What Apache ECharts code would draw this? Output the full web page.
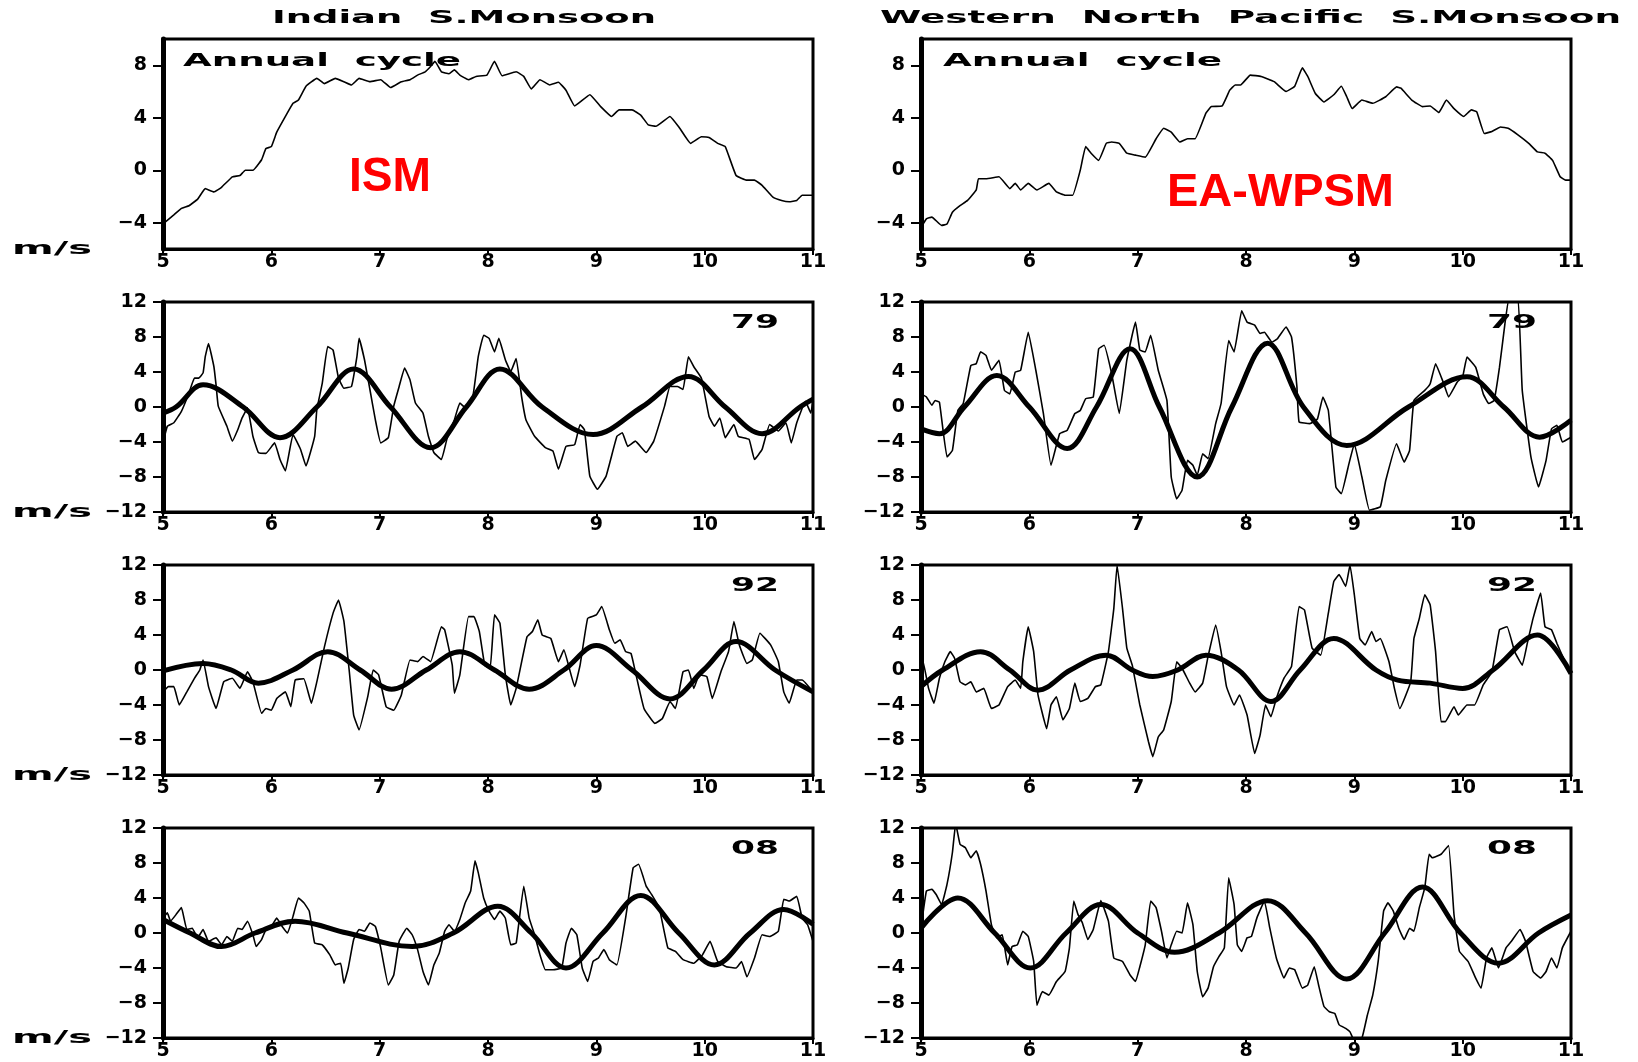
<!DOCTYPE html>
<html>
<head>
<meta charset="utf-8">
<script src="https://cdn.jsdelivr.net/npm/echarts@6/dist/echarts.min.js"></script>
<style>
html,body{margin:0;padding:0;background:#fff;}
#chart{width:1638px;height:1062px;}
</style>
</head>
<body>
<div id="chart"></div>
<script>
// ---------------- DATA (month on x, m/s on y) ----------------
const xTicks = [5, 6, 7, 8, 9, 10, 11];
const yTicksAnnual = [-4, 0, 4, 8];
const yTicksAnom = [-12, -8, -4, 0, 4, 8, 12];

const ismAnnual = [[5.00,-4.08],[5.10,-3.4],[5.17,-2.9],[5.24,-2.7],[5.32,-2.2],[5.39,-1.4],[5.47,-1.65],[5.54,-1.3],[5.64,-0.5],[5.71,-0.4],[5.76,0],[5.83,0],[5.91,0.8],[5.95,1.65],[6.00,1.8],[6.05,2.9],[6.13,4.1],[6.20,5.1],[6.25,5.35],[6.32,6.4],[6.42,7.0],[6.49,6.6],[6.59,7.0],[6.67,6.75],[6.74,6.5],[6.81,7.0],[6.91,6.75],[7.01,6.9],[7.10,6.3],[7.20,6.75],[7.28,6.9],[7.35,7.25],[7.42,7.5],[7.47,7.9],[7.51,8.3],[7.57,7.5],[7.64,7.35],[7.69,7.65],[7.74,7.25],[7.82,6.9],[7.89,7.15],[7.99,7.25],[8.06,8.3],[8.13,7.2],[8.26,7.5],[8.33,7.15],[8.40,6.2],[8.48,6.9],[8.57,6.5],[8.65,6.7],[8.72,6.1],[8.80,4.9],[8.94,5.75],[9.04,4.85],[9.14,4.1],[9.21,4.6],[9.33,4.6],[9.41,4.2],[9.48,3.45],[9.55,3.35],[9.68,4.1],[9.77,3.2],[9.87,2.05],[9.97,2.55],[10.04,2.5],[10.12,2.05],[10.19,1.8],[10.29,-0.4],[10.39,-0.75],[10.46,-0.75],[10.53,-1.15],[10.63,-2.05],[10.71,-2.3],[10.78,-2.4],[10.85,-2.3],[10.90,-1.9],[11.00,-1.9]];

const wnpAnnual = [[5.00,-4.35],[5.05,-3.7],[5.10,-3.57],[5.19,-4.2],[5.24,-4.1],[5.29,-3.2],[5.36,-2.7],[5.43,-2.3],[5.51,-1.5],[5.53,-0.65],[5.60,-0.65],[5.72,-0.5],[5.82,-1.4],[5.87,-1.0],[5.92,-1.5],[5.99,-1.0],[6.07,-1.5],[6.18,-1.0],[6.25,-1.65],[6.33,-1.9],[6.40,-1.9],[6.47,0],[6.52,1.8],[6.57,1.3],[6.64,0.75],[6.71,2.05],[6.76,2.15],[6.83,2.05],[6.90,1.3],[6.98,1.15],[7.07,1.0],[7.17,2.4],[7.24,3.2],[7.31,2.9],[7.39,2.15],[7.46,2.4],[7.53,2.4],[7.63,4.35],[7.68,4.85],[7.78,4.9],[7.85,6.1],[7.90,6.5],[7.95,6.5],[8.04,7.25],[8.14,7.15],[8.26,6.75],[8.37,6.0],[8.45,6.4],[8.52,7.8],[8.57,7.15],[8.64,5.85],[8.72,5.2],[8.81,5.75],[8.88,6.4],[8.93,5.6],[8.98,4.7],[9.07,5.35],[9.17,5.1],[9.29,5.6],[9.39,6.35],[9.43,6.25],[9.53,5.35],[9.63,4.85],[9.70,4.9],[9.78,4.4],[9.85,5.35],[9.92,4.7],[10.01,4.1],[10.08,4.6],[10.13,4.45],[10.20,2.8],[10.27,2.95],[10.35,3.3],[10.42,3.2],[10.51,2.7],[10.61,2.05],[10.69,1.4],[10.76,1.3],[10.83,0.75],[10.90,-0.5],[10.95,-0.75],[11.00,-0.75]];

const ism79Thin = [[5.00,-4.1],[5.04,-2.2],[5.10,-1.8],[5.17,-0.5],[5.24,1.6],[5.29,3.3],[5.33,3.3],[5.37,3.9],[5.39,5.75],[5.42,7.25],[5.47,4.6],[5.49,2.5],[5.51,0.1],[5.59,-2.2],[5.64,-3.9],[5.69,-2.6],[5.73,-1.25],[5.78,-0.1],[5.83,-3.35],[5.88,-5.2],[5.95,-5.3],[6.03,-4.1],[6.08,-6.0],[6.13,-7.3],[6.20,-3.15],[6.27,-4.85],[6.32,-6.75],[6.40,-3.35],[6.42,-0.3],[6.47,2.7],[6.52,6.9],[6.57,6.5],[6.62,3.3],[6.67,2.15],[6.74,2.35],[6.79,5.75],[6.81,7.85],[6.86,5.4],[6.91,2.0],[6.96,-1.45],[7.01,-4.1],[7.08,-3.5],[7.13,0.1],[7.18,2.35],[7.23,4.45],[7.28,3.1],[7.33,0.45],[7.40,-0.7],[7.45,-3.35],[7.50,-5.2],[7.57,-6.0],[7.62,-3.7],[7.69,-1.45],[7.74,0.45],[7.79,-0.1],[7.86,1.2],[7.91,5.75],[7.96,8.2],[8.01,7.85],[8.06,6.3],[8.10,7.85],[8.16,5.4],[8.21,4.05],[8.26,5.55],[8.31,1.2],[8.35,-1.45],[8.43,-3.35],[8.53,-4.65],[8.60,-5.05],[8.65,-7.1],[8.72,-4.5],[8.80,-4.3],[8.85,-2.0],[8.89,-2.6],[8.94,-7.9],[9.01,-9.4],[9.09,-7.9],[9.19,-3.35],[9.24,-2.95],[9.29,-4.5],[9.36,-3.9],[9.46,-5.2],[9.53,-3.9],[9.63,0.1],[9.68,2.35],[9.75,2.35],[9.80,2.0],[9.85,5.75],[9.90,4.6],[9.97,3.3],[10.04,-1.05],[10.09,-2.2],[10.14,-1.25],[10.19,-3.5],[10.27,-2.0],[10.31,-3.35],[10.41,-3.7],[10.46,-6.0],[10.53,-4.85],[10.60,-2.0],[10.68,-2.75],[10.75,-1.8],[10.80,-4.1],[10.85,-1.8],[10.93,0.65],[10.98,-0.7],[11.00,0.8]];
const ism79Fit = [[5.00,-0.7],[5.12,0],[5.37,2.55],[5.74,0],[6.08,-3.5],[6.42,0],[6.76,4.35],[7.10,0],[7.47,-4.65],[7.80,0],[8.11,4.35],[8.50,0],[8.97,-3.15],[9.42,0],[9.85,3.5],[10.19,0],[10.53,-3.05],[10.88,0],[11.00,0.9]];

const wnp79Thin = [[5.00,1.5],[5.05,1.15],[5.10,0.2],[5.13,0.75],[5.17,0.55],[5.24,-5.7],[5.29,-4.95],[5.34,-0.4],[5.39,0.4],[5.46,4.75],[5.51,4.95],[5.55,6.3],[5.60,5.9],[5.65,4.2],[5.72,5.35],[5.77,1.9],[5.82,1.5],[5.87,4.0],[5.92,4.2],[5.99,8.55],[6.06,4.2],[6.13,-0.75],[6.20,-6.65],[6.28,-3.05],[6.35,-2.65],[6.42,-0.75],[6.47,-0.4],[6.52,0.95],[6.59,1.15],[6.64,6.65],[6.69,7.05],[6.76,3.8],[6.83,-0.75],[6.90,5.35],[6.98,9.7],[7.02,6.5],[7.07,6.3],[7.12,8.2],[7.19,4.2],[7.27,0.75],[7.31,-8.0],[7.36,-10.5],[7.41,-9.5],[7.46,-6.1],[7.51,-6.65],[7.55,-7.8],[7.60,-5.35],[7.65,-5.9],[7.72,-1.9],[7.77,0.4],[7.84,7.6],[7.89,6.3],[7.96,11.0],[8.01,9.7],[8.08,9.35],[8.13,8.4],[8.17,8.55],[8.24,7.4],[8.29,7.8],[8.37,9.15],[8.42,8.0],[8.47,2.3],[8.49,-1.7],[8.59,-1.9],[8.66,-1.35],[8.71,1.15],[8.76,-0.4],[8.83,-9.15],[8.88,-9.9],[8.95,-6.5],[9.00,-4.2],[9.07,-8.0],[9.14,-11.8],[9.24,-11.4],[9.29,-8.4],[9.39,-4.2],[9.46,-6.3],[9.51,-4.95],[9.55,0.75],[9.65,1.9],[9.70,2.65],[9.75,4.95],[9.82,2.85],[9.87,1.15],[9.95,2.85],[10.00,3.45],[10.04,5.7],[10.12,4.55],[10.19,1.5],[10.24,0.4],[10.29,0.75],[10.34,4.55],[10.39,9.5],[10.43,12.5],[10.51,12.5],[10.55,1.9],[10.63,-5.7],[10.70,-9.15],[10.77,-6.1],[10.82,-2.5],[10.87,-2.1],[10.92,-4.0],[11.00,-3.45]];
const wnp79Fit = [[5.00,-2.5],[5.17,-3.05],[5.40,0],[5.70,3.6],[6.00,0],[6.35,-4.75],[6.62,0],[6.93,6.65],[7.20,0],[7.55,-8.0],[7.87,0],[8.20,7.3],[8.53,0],[8.93,-4.4],[9.50,0],[10.04,3.45],[10.38,0],[10.71,-3.45],[11.00,-1.5]];

const ism92Thin = [[5.00,-2.5],[5.05,-1.9],[5.10,-1.9],[5.15,-4.0],[5.22,-2.5],[5.29,-0.95],[5.34,0],[5.37,1.15],[5.42,-1.9],[5.49,-4.4],[5.56,-1.35],[5.64,-0.95],[5.71,-2.1],[5.78,-0.2],[5.83,-1.35],[5.91,-4.95],[5.95,-4.4],[6.00,-4.6],[6.05,-3.25],[6.13,-2.5],[6.18,-4.2],[6.22,-1.15],[6.30,-1.0],[6.37,-3.8],[6.42,-1.35],[6.49,2.65],[6.57,6.5],[6.62,8.0],[6.67,5.55],[6.72,-0.2],[6.76,-5.15],[6.81,-6.85],[6.89,-3.05],[6.94,0],[6.99,-0.55],[7.06,-4.2],[7.13,-4.6],[7.20,-2.85],[7.28,1.15],[7.35,0.95],[7.40,1.55],[7.47,0.95],[7.57,4.95],[7.60,4.6],[7.67,0.55],[7.69,-2.65],[7.74,-0.55],[7.82,6.1],[7.87,6.1],[7.92,4.4],[7.97,0.55],[8.02,0.2],[8.06,6.3],[8.11,5.35],[8.16,-0.55],[8.21,-4.0],[8.26,-2.1],[8.36,3.8],[8.41,4.4],[8.46,5.75],[8.50,4.0],[8.58,3.6],[8.65,0.95],[8.70,2.3],[8.80,-1.9],[8.85,0.55],[8.92,5.9],[9.00,6.3],[9.05,7.25],[9.12,4.6],[9.17,3.05],[9.22,3.45],[9.27,2.1],[9.32,1.9],[9.36,-0.2],[9.44,-4.4],[9.54,-6.1],[9.61,-5.55],[9.68,-3.6],[9.73,-4.4],[9.80,-0.2],[9.85,0],[9.90,-2.1],[9.95,-0.55],[10.02,-0.75],[10.07,-3.25],[10.15,-0.2],[10.22,2.1],[10.27,5.55],[10.32,2.85],[10.39,0.75],[10.44,1.15],[10.51,4.2],[10.61,2.85],[10.68,0.95],[10.73,-2.5],[10.78,-3.8],[10.85,-1.15],[10.90,-1.15],[11.00,-2.5]];
const ism92Fit = [[5.00,-0.1],[5.37,0.75],[5.63,0],[5.88,-1.5],[6.20,0],[6.52,2.1],[6.82,0],[7.11,-2.2],[7.43,0],[7.74,2.1],[8.06,0],[8.38,-2.2],[8.70,0],[9.00,2.8],[9.33,0],[9.68,-3.3],[9.99,0],[10.29,3.25],[10.65,0],[11.00,-2.5]];

const wnp92Thin = [[5.00,-2.1],[5.02,0.95],[5.07,-2.1],[5.12,-3.8],[5.17,-0.95],[5.22,0.95],[5.27,2.1],[5.31,1.35],[5.36,-1.35],[5.41,-1.7],[5.46,-1.35],[5.51,-2.5],[5.58,-2.1],[5.65,-4.4],[5.72,-4.0],[5.80,-1.9],[5.87,-1.15],[5.92,-2.1],[5.94,0.95],[5.99,4.95],[6.04,2.1],[6.08,-2.85],[6.16,-6.7],[6.20,-4.0],[6.25,-3.05],[6.31,-5.7],[6.37,-4.4],[6.42,-1.5],[6.47,-3.6],[6.54,-3.25],[6.61,-1.9],[6.66,-1.7],[6.73,2.1],[6.78,7.05],[6.81,12.0],[6.86,7.05],[6.90,2.5],[6.95,0.55],[7.02,-4.0],[7.10,-8.2],[7.14,-9.9],[7.19,-7.65],[7.24,-6.85],[7.31,-3.6],[7.36,0.95],[7.41,0.2],[7.48,-1.5],[7.53,-2.5],[7.60,-1.5],[7.65,1.55],[7.72,5.15],[7.77,2.1],[7.82,-1.9],[7.89,-4.0],[7.94,-2.85],[8.01,-5.15],[8.08,-9.55],[8.13,-7.45],[8.18,-4.0],[8.23,-5.35],[8.28,-3.25],[8.35,-0.95],[8.42,0.4],[8.49,7.25],[8.54,6.85],[8.61,2.5],[8.69,1.7],[8.76,6.5],[8.81,10.1],[8.86,10.9],[8.92,9.55],[8.96,12.0],[9.00,8.6],[9.05,3.6],[9.10,2.85],[9.16,4.4],[9.20,3.25],[9.24,3.6],[9.32,0.95],[9.37,-2.1],[9.42,-4.4],[9.52,-1.35],[9.55,3.6],[9.60,5.9],[9.65,8.6],[9.70,7.45],[9.75,2.1],[9.80,-5.9],[9.84,-5.9],[9.92,-4.2],[9.96,-5.15],[10.04,-4.0],[10.11,-4.0],[10.19,-1.7],[10.27,-0.2],[10.34,4.6],[10.41,4.95],[10.48,2.1],[10.55,0.55],[10.60,3.25],[10.65,5.9],[10.72,8.8],[10.76,4.95],[10.82,4.6],[10.87,3.05],[10.93,1.35],[11.00,-0.55]];
const wnp92Fit = [[5.00,-1.9],[5.20,0],[5.55,2.1],[5.82,0],[6.08,-2.3],[6.38,0],[6.71,1.7],[6.95,0],[7.14,-0.75],[7.37,0],[7.63,1.7],[7.93,0],[8.23,-3.6],[8.50,0],[8.81,3.6],[9.20,0],[9.40,-1.15],[9.70,-1.5],[10.00,-2.1],[10.28,0],[10.69,4.0],[11.00,-0.4]];

const ism08Thin = [[5.00,1.7],[5.04,2.3],[5.07,1.35],[5.12,2.1],[5.17,2.9],[5.22,0.4],[5.27,0.55],[5.32,-0.55],[5.37,0.4],[5.42,-0.95],[5.49,-0.55],[5.54,-1.35],[5.59,-0.4],[5.64,-0.95],[5.69,0.55],[5.73,0.4],[5.78,1.35],[5.83,-0.2],[5.86,-1.55],[5.91,-0.75],[5.95,0.4],[6.00,0.75],[6.05,1.7],[6.10,0.75],[6.15,0],[6.20,1.9],[6.25,4.0],[6.30,3.45],[6.35,2.5],[6.40,-1.15],[6.47,-1.35],[6.54,-2.5],[6.59,-3.65],[6.64,-3.45],[6.67,-5.75],[6.71,-4.0],[6.76,-0.75],[6.81,0.4],[6.86,0.2],[6.91,1.15],[6.96,0.75],[7.01,-1.7],[7.08,-5.95],[7.13,-4.8],[7.18,-0.95],[7.25,0.55],[7.30,-0.2],[7.35,-1.9],[7.40,-4.4],[7.45,-5.95],[7.50,-3.65],[7.55,-2.3],[7.60,0.2],[7.64,0.95],[7.69,0.2],[7.74,1.55],[7.79,3.45],[7.84,4.8],[7.88,8.25],[7.91,6.9],[7.96,4.0],[8.01,2.5],[8.06,1.55],[8.11,2.5],[8.16,1.7],[8.21,-1.35],[8.26,-1.15],[8.33,5.35],[8.38,1.7],[8.43,-0.2],[8.48,-2.5],[8.53,-4.2],[8.60,-4.2],[8.68,-4.0],[8.72,-1.15],[8.77,0.55],[8.82,-0.2],[8.87,-4.0],[8.92,-5.55],[8.97,-3.25],[9.02,-2.85],[9.07,-1.9],[9.12,-3.05],[9.19,-3.65],[9.27,1.7],[9.34,7.45],[9.39,7.85],[9.46,5.35],[9.51,4.4],[9.58,2.9],[9.66,-1.7],[9.73,-2.1],[9.80,-3.05],[9.90,-3.45],[9.98,-2.5],[10.05,-0.95],[10.12,-3.25],[10.20,-3.85],[10.29,-4.0],[10.34,-3.25],[10.39,-5.0],[10.46,-2.85],[10.53,-0.2],[10.60,-0.4],[10.68,0.2],[10.73,3.85],[10.78,3.65],[10.85,4.2],[10.90,1.7],[10.95,0.95],[11.00,-0.95]];
const ism08Fit = [[5.00,1.55],[5.25,0],[5.54,-1.55],[5.85,0],[6.22,1.35],[6.70,0],[7.30,-1.55],[7.68,0],[8.09,3.05],[8.40,0],[8.72,-4.0],[9.06,0],[9.41,4.3],[9.76,0],[10.09,-3.65],[10.42,0],[10.73,2.7],[11.00,1.0]];

const wnp08Thin = [[5.00,0.55],[5.05,4.8],[5.10,5.0],[5.14,4.4],[5.19,3.25],[5.24,5.55],[5.29,9.2],[5.32,12.5],[5.36,10.15],[5.41,9.75],[5.46,8.6],[5.51,9.4],[5.55,7.85],[5.60,4.8],[5.65,0.95],[5.70,-0.55],[5.75,-0.2],[5.80,-3.65],[5.84,-1.55],[5.89,-1.35],[5.94,0.2],[5.99,-0.4],[6.04,-3.25],[6.07,-8.25],[6.12,-6.7],[6.18,-7.1],[6.25,-5.55],[6.33,-4.4],[6.37,-1.7],[6.41,3.65],[6.45,2.1],[6.49,1.15],[6.54,-0.75],[6.59,0.4],[6.66,3.7],[6.73,1.35],[6.78,-2.85],[6.86,-3.25],[6.93,-4.8],[6.98,-5.55],[7.02,-3.85],[7.07,-1.35],[7.12,3.65],[7.17,2.9],[7.22,0.2],[7.27,-2.85],[7.31,-1.35],[7.36,0.2],[7.41,0],[7.46,3.45],[7.51,0.95],[7.55,-4.4],[7.60,-7.3],[7.65,-6.3],[7.70,-3.85],[7.75,-2.7],[7.80,-1.7],[7.84,6.3],[7.89,3.25],[7.92,-1.35],[7.96,-2.1],[8.01,-0.55],[8.05,-0.4],[8.10,1.7],[8.17,3.65],[8.22,0.55],[8.28,-2.85],[8.35,-5.15],[8.40,-4.0],[8.45,-4.2],[8.52,-6.3],[8.57,-5.95],[8.63,-3.85],[8.67,-5.95],[8.72,-8.4],[8.77,-9.0],[8.82,-9.2],[8.86,-10.5],[8.92,-10.9],[8.96,-11.3],[9.00,-12.3],[9.07,-12.0],[9.12,-9.4],[9.17,-7.1],[9.22,-3.25],[9.27,2.5],[9.31,3.45],[9.36,2.5],[9.41,0.55],[9.46,-0.75],[9.51,0.55],[9.55,0.2],[9.60,2.9],[9.65,5.15],[9.69,9.0],[9.72,8.6],[9.80,9.0],[9.87,10.0],[9.92,2.1],[9.97,-2.1],[10.05,-3.25],[10.12,-5.15],[10.17,-6.3],[10.22,-2.85],[10.27,-1.7],[10.33,-4.0],[10.40,-1.7],[10.45,-0.95],[10.53,0.4],[10.58,-0.95],[10.65,-4.4],[10.72,-5.15],[10.77,-4.4],[10.82,-2.85],[10.87,-4.0],[10.92,-1.7],[11.00,0.2]];
const wnp08Fit = [[5.00,0.55],[5.34,4.0],[5.68,0],[6.01,-4.0],[6.34,0],[6.66,3.25],[7.00,0],[7.34,-2.2],[7.75,0],[8.20,3.7],[8.55,0],[8.93,-5.25],[9.28,0],[9.63,5.25],[9.98,0],[10.33,-3.45],[10.70,0],[11.00,2.05]];

const columnTitles = ['Indian  S.Monsoon', 'Western  North  Pacific  S.Monsoon'];
const monsoonTags = ['ISM', 'EA-WPSM'];
const yearLabels = ['79', '92', '08'];
const unitLabel = 'm/s';
const annualLabel = 'Annual  cycle';

// panels: [row][col]
const panels = [
  [{thin: ismAnnual}, {thin: wnpAnnual}],
  [{thin: ism79Thin, fit: ism79Fit}, {thin: wnp79Thin, fit: wnp79Fit}],
  [{thin: ism92Thin, fit: ism92Fit}, {thin: wnp92Thin, fit: wnp92Fit}],
  [{thin: ism08Thin, fit: ism08Fit}, {thin: wnp08Thin, fit: wnp08Fit}]
];

// ---------------- LAYOUT ----------------
const GL = [163, 921];
const GW = 650;
const GT = [39, 302, 565, 828];
const GH = 210;
const FONT_FAM = '"DejaVu Sans", "Liberation Sans", sans-serif';

const chart = echarts.init(document.getElementById('chart'), null, {renderer: 'canvas'});

const minusFmt = v => (v < 0 ? '\u2212' + Math.abs(v) : String(v));

const grids = [], xAxes = [], yAxes = [], series = [];
let idx = 0;
for (let r = 0; r < 4; r++) {
  for (let c = 0; c < 2; c++) {
    grids.push({left: GL[c], top: GT[r], width: GW, height: GH, show: true,
      borderColor: '#000', borderWidth: 3, backgroundColor: 'transparent', containLabel: false});
    xAxes.push({
      type: 'value', gridIndex: idx, min: xTicks[0], max: xTicks[xTicks.length - 1], interval: 1,
      axisLine: {show: true, onZero: false, lineStyle: {color: '#000', width: 3}},
      axisTick: {show: true, inside: false, length: 6, lineStyle: {color: '#000', width: 2}},
      axisLabel: {show: true, color: '#000', fontSize: 19, fontWeight: 'bold', fontFamily: FONT_FAM,
        margin: 4, showMinLabel: true, showMaxLabel: true},
      splitLine: {show: false}
    });
    const yBase = {
      type: 'value', gridIndex: idx,
      axisLine: {show: true, onZero: false, lineStyle: {color: '#000', width: 5}},
      axisTick: {show: true, inside: false, length: 10, lineStyle: {color: '#000', width: 2}},
      axisLabel: {show: true, color: '#000', fontSize: 19, fontWeight: 'bold', fontFamily: FONT_FAM,
        margin: 16, formatter: minusFmt, showMinLabel: true, showMaxLabel: true},
      splitLine: {show: false}
    };
    if (r === 0) {
      yBase.min = -6; yBase.max = 10;
      yBase.axisLabel.customValues = yTicksAnnual;
      yBase.axisTick.customValues = yTicksAnnual;
    } else {
      yBase.min = yTicksAnom[0]; yBase.max = yTicksAnom[yTicksAnom.length - 1]; yBase.interval = 4;
    }
    yAxes.push(yBase);
    const p = panels[r][c];
    series.push({type: 'line', xAxisIndex: idx, yAxisIndex: idx, data: p.thin, showSymbol: false,
      symbol: 'none', clip: true, smooth: 0.1, lineStyle: {color: '#000', width: 1.6}, z: 3});
    if (p.fit) {
      series.push({type: 'line', xAxisIndex: idx, yAxisIndex: idx, data: p.fit, showSymbol: false,
        symbol: 'none', clip: true, smooth: 0.36, lineStyle: {color: '#000', width: 5}, z: 4});
    }
    idx++;
  }
}

// stretched text helper (GrADS-like wide lettering)
const mctx = document.createElement('canvas').getContext('2d');
function wideText(str, left, right, cy, size, weight, family, color) {
  const font = weight + ' ' + size + 'px ' + family;
  mctx.font = font;
  const w = mctx.measureText(str).width;
  return {type: 'text', x: left, y: cy, scaleX: (right - left) / w, silent: true, z: 10,
    style: {text: str, font: font, fill: color, textAlign: 'left', textVerticalAlign: 'middle', verticalAlign: 'middle'}};
}

const graphics = [];
graphics.push(wideText(columnTitles[0], 272, 656, 18.5, 18, 'bold', FONT_FAM, '#000'));
graphics.push(wideText(columnTitles[1], 880, 1621, 18.5, 18, 'bold', FONT_FAM, '#000'));
graphics.push(wideText(annualLabel, 183, 461, 61.5, 18, 'bold', FONT_FAM, '#000'));
graphics.push(wideText(annualLabel, 943, 1222, 61.5, 18, 'bold', FONT_FAM, '#000'));
graphics.push(wideText(monsoonTags[0], 349, 431, 177.5, 48, 'bold', '"Liberation Sans", Arial, sans-serif', '#ff0000'));
graphics.push(wideText(monsoonTags[1], 1167, 1394, 193.5, 46, 'bold', '"Liberation Sans", Arial, sans-serif', '#ff0000'));
for (let r = 0; r < 4; r++) {
  graphics.push(wideText(unitLabel, 12, 92, GT[r] + GH + 0.5, 17, 'bold', FONT_FAM, '#000'));
}
for (let r = 1; r < 4; r++) {
  graphics.push(wideText(yearLabels[r - 1], 731, 779, GT[r] + 21, 20, 'bold', FONT_FAM, '#000'));
  graphics.push(wideText(yearLabels[r - 1], 1487, 1537, GT[r] + 21, 20, 'bold', FONT_FAM, '#000'));
}

chart.setOption({
  animation: false,
  backgroundColor: '#fff',
  grid: grids,
  xAxis: xAxes,
  yAxis: yAxes,
  series: series,
  graphic: graphics
});
</script>
</body>
</html>
